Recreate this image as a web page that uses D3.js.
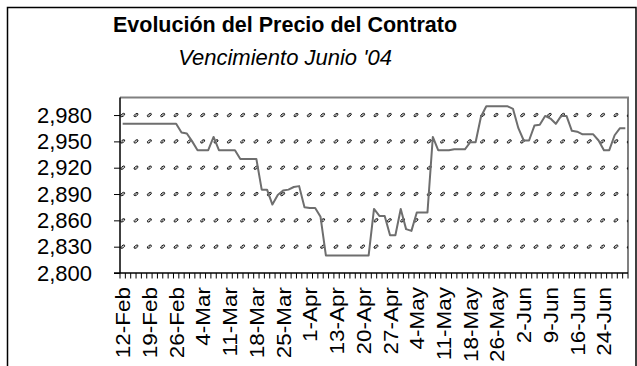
<!DOCTYPE html>
<html>
<head>
<meta charset="utf-8">
<script src="https://cdn.jsdelivr.net/npm/d3@7"></script>
<style>
  body { margin: 0; background: #fff; }
  svg { display: block; }
  text { font-family: "Liberation Sans", Arial, sans-serif; fill: #000; }
</style>
</head>
<body>
<svg id="chart" width="637" height="366"></svg>
<script>
// Trading days of the June '04 contract
const dates = [
  "12-Feb","13-Feb","16-Feb","17-Feb","18-Feb","19-Feb","20-Feb","23-Feb","24-Feb","25-Feb","26-Feb","27-Feb",
  "1-Mar","2-Mar","3-Mar","4-Mar","5-Mar","8-Mar","9-Mar","10-Mar","11-Mar","12-Mar","15-Mar","16-Mar","17-Mar","18-Mar",
  "19-Mar","22-Mar","23-Mar","24-Mar","25-Mar","26-Mar","29-Mar","30-Mar","31-Mar","1-Apr",
  "5-Apr","6-Apr","7-Apr","12-Apr","13-Apr","14-Apr","15-Apr","16-Apr","19-Apr","20-Apr",
  "21-Apr","22-Apr","23-Apr","26-Apr","27-Apr","28-Apr","29-Apr","30-Apr","3-May","4-May",
  "5-May","6-May","7-May","10-May","11-May","12-May","13-May","14-May","17-May","18-May",
  "19-May","20-May","21-May","24-May","26-May","27-May","28-May","31-May","1-Jun","2-Jun",
  "3-Jun","4-Jun","7-Jun","8-Jun","9-Jun","10-Jun","11-Jun","14-Jun","15-Jun","16-Jun",
  "17-Jun","18-Jun","22-Jun","23-Jun","24-Jun","25-Jun","28-Jun","29-Jun","30-Jun"
];

// Settlement price per day
const prices = [
  2970,2970,2970,2970,2970,2970,2970,2970,2970,2970,2970,
  2960,2959,2950,2940,2940,2940,2955,2940,2940,2940,2940,
  2930,2930,2930,2930,2895,2895,2878,2889,2894,2895,2898,2899,
  2875,2874,2874,2864,
  2820,2820,2820,2820,2820,2820,2820,2820,2820,
  2873,2865,2865,2843,2843,2873,2850,2848,2869,2869,2869,
  2955,2940,2940,2940,2941,2941,2941,2949,2949,2978,
  2990,2990,2990,2990,2990,2987,2965,2951,2951,2968,2969,
  2979,2976,2970,2979,2979,2962,2961,2958,2958,2958,2951,
  2940,2940,2957,2965,2965
];

const yTicks = [2800, 2830, 2860, 2890, 2920, 2950, 2980];
const yDomain = [2800, 3000];
const labelEvery = 5;

const titleText = "Evolución del Precio del Contrato";
const subtitleText = "Vencimiento Junio '04";

const svg = d3.select("#chart");
const W = 637, H = 366;
const plot = { left: 120, right: 628, top: 97.5, bottom: 273 };

// Chart frame
svg.append("rect")
  .attr("x", 7.5).attr("y", 7.5)
  .attr("width", W - 8.5).attr("height", H + 10)
  .attr("fill", "#fff").attr("stroke", "#000").attr("stroke-width", 1.5);

// Titles
svg.append("text")
  .attr("x", 285).attr("y", 32)
  .attr("text-anchor", "middle")
  .attr("font-size", 21.5).attr("font-weight", "bold")
  .text(titleText);
svg.append("text")
  .attr("x", 285).attr("y", 64.5)
  .attr("text-anchor", "middle")
  .attr("font-size", 22).attr("font-style", "italic")
  .text(subtitleText);

const x = d3.scaleBand()
  .domain(d3.range(dates.length))
  .range([plot.left, plot.right])
  .paddingInner(0).paddingOuter(0);

const y = d3.scaleLinear().domain(yDomain).range([plot.bottom, plot.top]);

// Plot area border (top and right in grey)
svg.append("path")
  .attr("d", `M${plot.left},${plot.top}H${plot.right}V${plot.bottom}`)
  .attr("fill", "none").attr("stroke", "#808080").attr("stroke-width", 2);

// Gridlines drawn as a row of small slanted marks
svg.append("clipPath").attr("id", "plotClip")
  .append("rect")
  .attr("x", plot.left).attr("y", plot.top - 5)
  .attr("width", plot.right - plot.left).attr("height", plot.bottom - plot.top + 5);

const markStep = 13.33;
const markXs = d3.range(plot.left + 2.7, plot.right + markStep, markStep);
const grid = svg.append("g").attr("clip-path", "url(#plotClip)");
yTicks.filter(v => v > yDomain[0]).forEach(v => {
  const g = grid.append("g");
  g.selectAll("ellipse")
    .data(markXs)
    .join("ellipse")
    .attr("cx", d => d).attr("cy", y(v))
    .attr("rx", 2.3).attr("ry", 1.2)
    .attr("transform", d => `rotate(-35,${d},${y(v)})`)
    .attr("fill", "none").attr("stroke", "#111").attr("stroke-width", 0.9);
  g.selectAll("path")
    .data(markXs)
    .join("path")
    .attr("d", d => `M${d - 1.8},${y(v) + 1.6}L${d + 1.8},${y(v) - 1.6}`)
    .attr("stroke", "#333").attr("stroke-width", 0.6);
});

// Price line
const line = d3.line()
  .x((d, i) => x(i) + x.bandwidth() / 2)
  .y(d => y(d));
svg.append("path")
  .datum(prices)
  .attr("d", line)
  .attr("fill", "none")
  .attr("stroke", "#6e6e6e")
  .attr("stroke-width", 2)
  .attr("stroke-linejoin", "round");

// Y axis
const yAxis = svg.append("g")
  .attr("transform", `translate(${plot.left},0)`)
  .call(d3.axisLeft(y).tickValues(yTicks).tickSize(6).tickPadding(22).tickFormat(d3.format(",")));
yAxis.select(".domain").attr("stroke", "#000").attr("stroke-width", 1.5)
  .attr("d", `M0,${plot.top}V${plot.bottom}`);
yAxis.selectAll(".tick line").attr("stroke", "#000").attr("stroke-width", 1);
yAxis.selectAll(".tick text")
  .attr("font-size", 22)
  .attr("font-family", "'Liberation Sans', Arial, sans-serif")
  .attr("fill", "#000");

// X axis: a tick at every category boundary, a label every fifth day
const xAxis = svg.append("g");
xAxis.append("line")
  .attr("x1", plot.left - 6).attr("x2", plot.right)
  .attr("y1", plot.bottom).attr("y2", plot.bottom)
  .attr("stroke", "#000").attr("stroke-width", 1.5);
const boundaries = d3.range(dates.length + 1).map(i => plot.left + i * x.step());
xAxis.selectAll("line.tick")
  .data(boundaries)
  .join("line")
  .attr("class", "tick")
  .attr("x1", d => d).attr("x2", d => d)
  .attr("y1", plot.bottom).attr("y2", plot.bottom + 5.5)
  .attr("stroke", "#000").attr("stroke-width", 1);

const labelIdx = d3.range(0, dates.length, labelEvery);
xAxis.selectAll("text")
  .data(labelIdx)
  .join("text")
  .attr("transform", i => `translate(${x(i) + x.bandwidth() / 2 + 7.5},${plot.bottom + 14}) rotate(-90) scale(1.07,1)`)
  .attr("text-anchor", "end")
  .attr("font-size", 21)
  .text(i => dates[i]);
</script>
</body>
</html>
